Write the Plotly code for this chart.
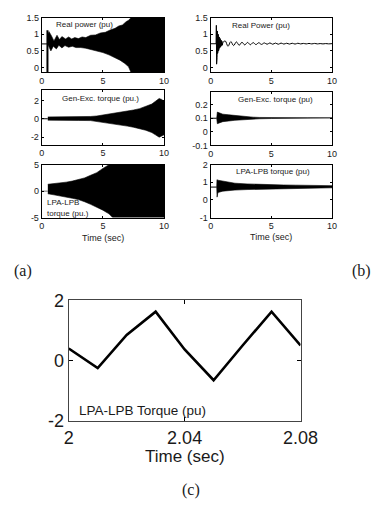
import plotly.graph_objects as go

W, H = 391, 512

# ---------------- data ----------------
# (a) Real power
a_p_flat_t = [0, 0.47]
a_p_flat_v = [0.71, 0.71]
a_p_spike_t = [0.47, 0.47]
a_p_spike_v = [1.12, -0.15]
a_p_up_t = [0.5, 0.6, 0.8, 1.0, 1.25, 1.45, 1.65, 1.95, 2.2, 2.45, 2.7, 3.0, 3.3, 3.6, 4.0, 4.4, 4.8, 5.2, 5.6, 6.0, 6.3, 6.6, 6.9, 7.1, 7.3, 10]
a_p_up_v = [1.0, 1.08, 0.95, 0.8, 0.97, 0.84, 0.93, 0.86, 0.92, 0.86, 0.9, 0.87, 0.92, 0.9, 0.97, 0.98, 1.04, 1.06, 1.13, 1.18, 1.25, 1.28, 1.38, 1.42, 1.5, 1.5]
a_p_lo_t = [0.5, 0.75, 0.95, 1.2, 1.4, 1.65, 1.9, 2.2, 2.5, 2.8, 3.2, 3.6, 4.0, 4.5, 5.0, 5.5, 6.0, 6.4, 6.8, 7.1, 7.3, 10]
a_p_lo_v = [0.7, 0.5, 0.64, 0.56, 0.67, 0.59, 0.66, 0.61, 0.64, 0.6, 0.6, 0.58, 0.55, 0.5, 0.45, 0.38, 0.3, 0.22, 0.12, 0.02, -0.15, -0.15]

# (a) Gen-Exc torque
a_g_flat_t = [0, 0.5]
a_g_flat_v = [0, 0]
a_g_t = [0.5, 1, 2, 3, 4, 4.5, 5, 5.5, 6, 6.5, 7, 7.5, 8, 8.5, 9, 9.3, 9.6, 9.8, 10]
a_g_up = [0.2, 0.2, 0.2, 0.22, 0.25, 0.3, 0.4, 0.5, 0.6, 0.7, 0.8, 0.95, 1.1, 1.35, 1.6, 1.9, 2.2, 2.1, 1.9]
a_g_lo = [-0.15, -0.15, -0.15, -0.18, -0.2, -0.28, -0.38, -0.48, -0.6, -0.7, -0.8, -0.92, -1.05, -1.25, -1.5, -1.75, -2.0, -1.9, -1.75]

# (a) LPA-LPB torque
a_l_flat_t = [0, 0.5]
a_l_flat_v = [0, 0]
a_l_up_t = [0.5, 1, 1.5, 2, 2.5, 3, 3.5, 4, 4.5, 5, 5.3, 5.5, 10]
a_l_up_v = [1.3, 1.4, 1.5, 1.7, 1.9, 2.2, 2.5, 3.0, 3.5, 4.3, 4.8, 5, 5]
a_l_lo_t = [0.5, 1, 1.5, 2, 2.5, 3, 3.5, 4, 4.5, 5, 5.5, 5.8, 10]
a_l_lo_v = [-0.5, -0.7, -0.9, -1.1, -1.35, -1.6, -2.0, -2.5, -3.0, -3.6, -4.3, -5, -5]

# (b) Real power
b_p_dense_t = [0, 0.45, 0.47, 0.49, 0.51, 0.53, 0.55, 0.57, 0.59, 0.61, 0.63, 0.65, 0.67, 0.69, 0.71, 0.73, 0.75, 0.77, 0.79, 0.81, 0.83, 0.85, 0.87, 0.9, 0.93, 0.96, 1.0]
b_p_dense_v = [0.715, 0.715, 1.27, 0.1, 1.15, 0.3, 1.1, 0.42, 1.06, 0.48, 1.0, 0.5, 0.95, 0.55, 0.92, 0.58, 0.9, 0.6, 0.87, 0.62, 0.84, 0.64, 0.82, 0.66, 0.79, 0.67, 0.75]
b_p_t = [1.0, 1.2, 1.43, 1.66, 1.89, 2.12, 2.35, 2.58, 2.81, 3.04, 3.27, 3.5, 3.73, 3.96, 4.19, 4.42, 4.65, 4.88, 5.11, 5.34, 5.57, 5.8, 6.03, 6.26, 6.49, 6.72, 6.95, 7.18, 7.41, 7.64, 7.87, 8.1, 8.33, 8.56, 8.79, 9.02, 9.25, 9.48, 9.71, 10]
b_p_v = [0.75, 0.8, 0.64, 0.78, 0.66, 0.77, 0.67, 0.76, 0.68, 0.755, 0.685, 0.75, 0.69, 0.745, 0.695, 0.74, 0.7, 0.74, 0.7, 0.735, 0.7, 0.735, 0.705, 0.73, 0.705, 0.73, 0.705, 0.73, 0.71, 0.725, 0.71, 0.725, 0.71, 0.725, 0.71, 0.72, 0.71, 0.72, 0.712, 0.718]

# (b) Gen-Exc torque
b_g_flat_t = [0, 0.5]
b_g_flat_v = [0.1, 0.1]
b_g_t = [0.5, 0.55, 0.7, 1.0, 1.5, 2, 2.5, 3, 3.5, 4, 5, 6, 7, 8, 9, 10]
b_g_up = [0.1, 0.145, 0.14, 0.13, 0.125, 0.12, 0.115, 0.112, 0.108, 0.106, 0.104, 0.103, 0.103, 0.103, 0.103, 0.103]
b_g_lo = [0.1, 0.06, 0.065, 0.075, 0.08, 0.085, 0.09, 0.092, 0.094, 0.096, 0.098, 0.099, 0.099, 0.099, 0.099, 0.099]

# (b) LPA-LPB torque
b_l_flat_t = [0, 0.5]
b_l_flat_v = [0.73, 0.73]
b_l_up_t = [0.5, 0.52, 0.6, 1.0, 1.5, 2, 3, 4, 5, 6, 7, 8, 9, 10]
b_l_up_v = [0.73, 1.15, 1.12, 1.06, 1.0, 0.95, 0.91, 0.88, 0.86, 0.85, 0.84, 0.83, 0.82, 0.81]
b_l_lo_t = [0.5, 0.53, 0.6, 1.0, 1.5, 2, 3, 4, 5, 6, 7, 8, 9, 10]
b_l_lo_v = [0.73, 0.16, 0.42, 0.5, 0.53, 0.56, 0.59, 0.61, 0.63, 0.65, 0.66, 0.67, 0.68, 0.69]

# (c) zoomed LPA-LPB torque
c_t = [2.00, 2.01, 2.02, 2.03, 2.04, 2.05, 2.06, 2.07, 2.08]
c_v = [0.4, -0.25, 0.85, 1.62, 0.37, -0.65, 0.5, 1.62, 0.5]

# tick labels
ab_xticks = [0, 5, 10]
p_yticks = [0, 0.5, 1, 1.5]
p_ytext = ["0", "0.5", "1", "1.5"]
ag_yticks = [-2, 0, 2]
ag_ytext = ["-2", "0", "2"]
al_yticks = [-5, 0, 5]
al_ytext = ["-5", "0", "5"]
bg_yticks = [-0.1, 0, 0.1, 0.2]
bg_ytext = ["-0.1", "0", "0.1", "0.2"]
bl_yticks = [-1, 0, 1, 2]
bl_ytext = ["-1", "0", "1", "2"]
c_xticks = [2, 2.04, 2.08]
c_xtext = ["2", "2.04", "2.08"]
c_yticks = [-2, 0, 2]
c_ytext = ["-2", "0", "2"]

# ---------------- figure ----------------
fig = go.Figure()
K = "black"


def line(x, y, ax, width=1, color=K, shape="linear"):
    fig.add_trace(go.Scatter(x=x, y=y, mode="lines", xaxis="x" + ax, yaxis="y" + ax,
                             line=dict(color=color, width=width, shape=shape),
                             showlegend=False, hoverinfo="skip"))


def band(ut, uv, lt, lv, ax):
    fig.add_trace(go.Scatter(x=list(ut) + list(lt)[::-1], y=list(uv) + list(lv)[::-1],
                             mode="lines", fill="toself", fillcolor=K,
                             xaxis="x" + ax, yaxis="y" + ax,
                             line=dict(color=K, width=0.6),
                             showlegend=False, hoverinfo="skip"))


# (a)
line(a_p_flat_t, a_p_flat_v, "")
line(a_p_spike_t, a_p_spike_v, "", width=2)
band(a_p_up_t, a_p_up_v, a_p_lo_t, a_p_lo_v, "")
line(a_g_flat_t, a_g_flat_v, "2")
band(a_g_t, a_g_up, a_g_t, a_g_lo, "2")
line(a_l_flat_t, a_l_flat_v, "3", color="#777")
band(a_l_up_t, a_l_up_v, a_l_lo_t, a_l_lo_v, "3")
# (b)
line(b_p_dense_t, b_p_dense_v, "4")
line(b_p_t, b_p_v, "4", shape="spline")
line(b_g_flat_t, b_g_flat_v, "5")
band(b_g_t, b_g_up, b_g_t, b_g_lo, "5")
line(b_l_flat_t, b_l_flat_v, "6")
band(b_l_up_t, b_l_up_v, b_l_lo_t, b_l_lo_v, "6")
# (c)
line(c_t, c_v, "7", width=2.6)


def xd(l, r):
    return [l / W, r / W]


def yd(t, b):
    return [1 - b / H, 1 - t / H]


TXT = "#1a1a1a"
small = dict(family="Arial", size=9, color=TXT)
big = dict(family="Arial", size=18, color=TXT)

def xax(dom, anchor, rng, tv, tt, font, tl):
    return dict(domain=dom, anchor=anchor, range=rng, tickvals=tv, ticktext=tt,
                tickfont=font, ticks="inside", ticklen=tl, tickcolor=K, tickwidth=1,
                showline=True, linecolor=K, linewidth=1, mirror="ticks",
                showgrid=False, zeroline=False, fixedrange=True)

ax_a = xd(39, 169)
ax_b = xd(218.5, 347.5)
ax_c = xd(67.7, 314)
layout = dict(
    width=W, height=H, margin=dict(l=0, r=0, t=0, b=0),
    paper_bgcolor="white", plot_bgcolor="white", showlegend=False,
    xaxis=xax(ax_a, "y", [0, 10], ab_xticks, [str(v) for v in ab_xticks], small, 2),
    yaxis=xax(yd(8, 65), "x", [-0.15, 1.5], p_yticks, p_ytext, small, 2),
    xaxis2=xax(ax_a, "y2", [0, 10], ab_xticks, [str(v) for v in ab_xticks], small, 2),
    yaxis2=xax(yd(83, 140), "x2", [-2.8, 3.15], ag_yticks, ag_ytext, small, 2),
    xaxis3=xax(ax_a, "y3", [0, 10], ab_xticks, [str(v) for v in ab_xticks], small, 2),
    yaxis3=xax(yd(161, 216), "x3", [-5, 5], al_yticks, al_ytext, small, 2),
    xaxis4=xax(ax_b, "y4", [0, 10], ab_xticks, [str(v) for v in ab_xticks], small, 2),
    yaxis4=xax(yd(8, 65), "x4", [-0.15, 1.5], p_yticks, p_ytext, small, 2),
    xaxis5=xax(ax_b, "y5", [0, 10], ab_xticks, [str(v) for v in ab_xticks], small, 2),
    yaxis5=xax(yd(85, 141), "x5", [-0.1, 0.295], bg_yticks, bg_ytext, small, 2),
    xaxis6=xax(ax_b, "y6", [0, 10], ab_xticks, [str(v) for v in ab_xticks], small, 2),
    yaxis6=xax(yd(161, 216), "x6", [-1, 2], bl_yticks, bl_ytext, small, 2),
    xaxis7=xax(ax_c, "y7", [2, 2.08], c_xticks, c_xtext, big, 4),
    yaxis7=xax(yd(302, 427.7), "x7", [-2, 2], c_yticks, c_ytext, big, 4),
)
layout["xaxis7"]["linecolor"] = "#444"
layout["yaxis7"]["linecolor"] = "#444"


def ann(text, x, y, size, family="Arial", xanchor="center"):
    return dict(text=text, x=x / W, y=1 - y / H, xref="paper", yref="paper",
                showarrow=False, xanchor=xanchor, yanchor="middle",
                font=dict(family=family, size=size, color=TXT))

layout["annotations"] = [
    ann("Real power (pu)", 84, 15, 8),
    ann("Real Power (pu)", 272, 16.5, 8),
    ann("Gen-Exc. torque (pu.)", 101, 92, 8),
    ann("Gen-Exc. torque (pu)", 287, 93, 8),
    ann("LPA-LPB", 43, 200, 8, xanchor="left"),
    ann("torque (pu.)", 43, 211.5, 8, xanchor="left"),
    ann("LPA-LPB torque (pu)", 285, 168, 8),
    ann("Time (sec)", 104, 237, 9),
    ann("Time (sec)", 283, 236, 9),
    ann("LPA-LPB Torque (pu)", 77, 416.5, 13.5, xanchor="left"),
    ann("Time (sec)", 191, 465, 17),
    ann("(a)", 19, 272, 16, family="Liberation Serif"),
    ann("(b)", 379, 272, 16, family="Liberation Serif"),
    ann("(c)", 198, 500, 16, family="Liberation Serif"),
]

fig.update_layout(**layout)
fig.write_html("out.html", config={"displayModeBar": False, "staticPlot": True},
               post_script="document.body.style.margin='0';document.body.style.overflow='hidden';")
